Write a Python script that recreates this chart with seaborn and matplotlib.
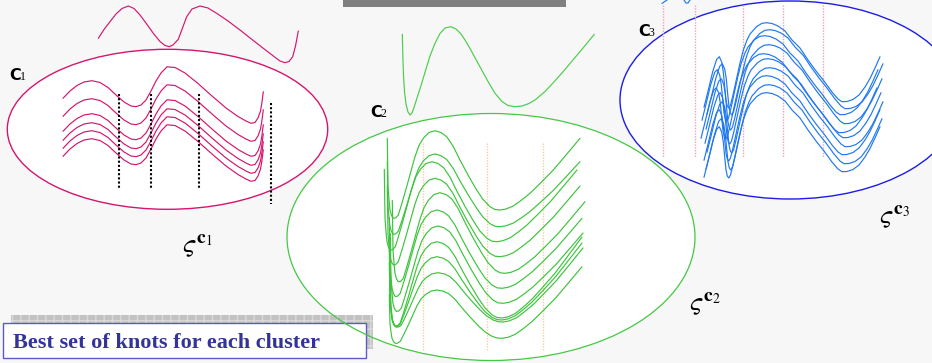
import matplotlib
matplotlib.use("Agg")
import numpy as np
import matplotlib.pyplot as plt
import seaborn as sns
from matplotlib.patches import Ellipse, Rectangle

# ---------------- data (pixel-space coordinates of the diagram) ----------------
# Cluster C1: prototype curve and the base shape of its member curves
c1_proto_x = [98.3, 104, 110, 116, 122, 128.3, 134, 140, 146.7, 153.3, 160, 165, 169.3, 173,
              178.3, 182.5, 186.7, 192, 200, 208, 216.7, 228, 240, 252, 263.3, 274, 280, 285,
              289, 292.7, 295.5, 298.3]
c1_proto_y = [38.3, 29.5, 21.7, 14, 8.5, 6, 8.5, 15, 24, 33.3, 41.5, 45.5, 46.7, 45,
              39.3, 28, 16.7, 9, 6, 8, 13.3, 21, 30, 39.5, 48.3, 56.5, 61, 62.7,
              61.5, 56.7, 46, 31]
c1_base_x = [63, 70, 77, 84, 92, 100, 108, 116, 124, 131, 136, 141, 146, 151, 156, 161, 167,
             175, 185, 198, 212, 226, 238, 246, 251, 255, 258, 260.5, 262, 263.3]
c1_base_y = [148.3, 141, 135.5, 132, 130.7, 132.5, 137.5, 145, 152, 156, 156.7, 155, 150, 141,
             131, 123, 116.8, 117.5, 123, 133.5, 146, 158, 166.5, 171, 173.3, 172.5, 168, 161,
             152, 141.7]
c1_shift_y = [-50, -32, -17, -8, 0, 8]
c1_knots = [119, 150.7, 199, 270.7]

# Cluster C2
c2_proto_x = [402.3, 402.8, 403.5, 404.5, 406, 408, 410, 412, 414, 417, 421.7, 426, 430, 435,
              440, 445, 451, 456, 461, 465, 470, 476, 481.7, 488, 495, 502, 508, 515, 522,
              529, 535, 545, 553, 561.7, 570, 578, 586, 594.3]
c2_proto_y = [34.3, 55, 75, 92, 104, 112, 115, 113, 107.5, 98, 83.3, 69, 56, 43.3,
              33.5, 28, 26.7, 29, 34, 40, 48.5, 59.5, 70, 81.5, 93.3, 101.5, 105.5, 106.7, 106,
              103.5, 100, 91.5, 83, 73.3, 63.5, 54, 44.5, 34.3]
c2_base_x = [387.3, 387.6, 388, 389, 390, 391.5, 393.3, 395.5, 398.3, 402, 406.7, 411, 415, 419,
             423.3, 429, 435, 441, 446.7, 453, 460, 468, 476.7, 483, 490, 495, 500, 506, 513.3,
             521, 530, 541, 553.3, 566, 580]
c2_base_y = [138.3, 160, 186.7, 200, 210, 215.5, 218.3, 218, 215, 203, 186.7, 171, 156.7, 145.5,
             138.3, 132.5, 130.7, 132.5, 136.7, 146, 160, 175, 190, 199.5, 206.7, 209.5, 210, 209,
             206, 200.5, 193.3, 182.5, 170, 155, 138.3]
# per-curve levels: main peak, right trough and right end
c2_peak = [130.7, 154, 161.7, 178.3, 192.7, 210, 226, 241.7, 256.7, 272.7, 290]
c2_trough = [210, 226.7, 241.7, 256.7, 273.3, 288.3, 303.3, 318, 320, 322, 338.3]
c2_end = [138.3, 161.7, 170, 186, 201.7, 218.3, 233, 237, 243, 248, 266.7]
c2_shift_x = [0, 0, -3, 0, 5, 2, 3, 2, 2, 3, 2]
c2_knots = [422.7, 486.7, 542.7]

# Cluster C3
c3_base_x = [704, 708.3, 712.7, 716.7, 719.3, 721.7, 723.3, 724.7, 726, 727.3, 728.8, 730.5, 733,
             736.7, 740, 743.3, 747, 750, 756.7, 762, 766.7, 772, 778, 785, 792, 800, 808, 816,
             824, 832, 838, 842, 847, 853, 859, 865, 870, 875, 880]
c3_base_y = [107.3, 90, 71.7, 59.3, 56.7, 62, 72, 87, 100, 106, 108, 105, 95,
             78, 63, 50, 40, 34, 26.5, 23.3, 22.7, 23.5, 26, 31, 40, 48, 60, 71,
             81, 92, 99, 101.7, 101.5, 99.5, 95, 87, 78.5, 68, 56.7]
c3_shift_y = [0, 7, 13, 22, 31, 36, 45, 53, 62, 70]
c3_shift_x = [0, 3, -2, 2, -3, 1, 3, 0, 2, 0]
c3_knots = [663, 695, 743, 783, 823]
c3_proto_a_x = [662, 664, 667, 669]
c3_proto_a_y = [3.5, 2, 0, -3]
c3_proto_b_x = [683, 684, 686, 688, 690, 691]
c3_proto_b_y = [-3, 0, 3, 3, 0, -3]

caption = "Best set of knots for each cluster"

# ---------------- styling ----------------
sns.set_theme(style="white")
plt.rcParams['font.family'] = ['DejaVu Sans']
plt.rcParams['mathtext.fontset'] = 'stix'

BG = '#f7f7f7'
MAGENTA = '#d3166e'
GREEN = '#3cc43c'
BLUE_EDGE = '#1c1ce8'
BLUE = '#1f78f2'

fig = plt.figure(figsize=(9.32, 3.63), dpi=100)
fig.patch.set_facecolor(BG)
ax = fig.add_axes([0, 0, 1, 1])
ax.set_facecolor(BG)


def curve(xs, ys, color, lw=0.85, z=3):
    sns.lineplot(x=list(xs), y=list(ys), sort=False, estimator=None,
                 color=color, linewidth=lw, ax=ax, zorder=z)


# cluster ellipses (white fill)
ax.add_patch(Ellipse((167.5, 129.3), 320.4, 160, facecolor='white', edgecolor=MAGENTA, lw=1.0, zorder=1))
ax.add_patch(Ellipse((491, 237), 408, 247, facecolor='white', edgecolor='none', zorder=1))
ax.add_patch(Ellipse((491, 237), 408, 247, facecolor='none', edgecolor='#44c844', lw=0.9, zorder=8))
ax.add_patch(Ellipse((790, 100), 340, 198, facecolor='white', edgecolor=BLUE_EDGE, lw=1.0, zorder=1))

# top bar
ax.add_patch(Rectangle((343.3, 0), 222.7, 6.7, facecolor='#808080', edgecolor='none', zorder=2))

# ---- C1 ----
curve(c1_proto_x, c1_proto_y, MAGENTA)
bx1 = np.array(c1_base_x)
by1 = np.array(c1_base_y)
for dy in c1_shift_y:
    curve(bx1, by1 + dy, MAGENTA)
ax.vlines(c1_knots[:3], 94.3, 187.7, colors='black', lw=1.5, linestyles=(0, (1, 1)), zorder=4)
ax.vlines(c1_knots[3:], 102.7, 204, colors='black', lw=1.5, linestyles=(0, (1, 1)), zorder=4)

# ---- C2 ----
curve(c2_proto_x, c2_proto_y, '#4ccc4c')
bx2 = np.array(c2_base_x)
by2 = np.array(c2_base_y)
ref_t, ref_p, ref_e = 210.0, 130.7, 138.3
for p, t, e, dx in zip(c2_peak, c2_trough, c2_end, c2_shift_x):
    left = bx2 <= 500
    scale = np.where(left, (t - p) / (ref_t - ref_p), (t - e) / (ref_t - ref_e))
    curve(bx2 + dx, t + (by2 - ref_t) * scale, GREEN)
ax.vlines(c2_knots, 143.3, 350, colors='#f5cfa0', lw=1.0, linestyles=(0, (1, 1)), zorder=2)

# ---- C3 ----
curve(c3_proto_a_x, c3_proto_a_y, BLUE)
curve(c3_proto_b_x, c3_proto_b_y, BLUE)
bx3 = np.array(c3_base_x)
by3 = np.array(c3_base_y)
for dy, dx in zip(c3_shift_y, c3_shift_x):
    curve(bx3 + dx, by3 + dy, BLUE)
ax.vlines(c3_knots, 5, 157, colors='#e8a4bc', lw=1.0, linestyles=(0, (1, 1)), zorder=2)

# ---- cluster labels ----
for (x, y, d) in [(9.3, 79.5, '1'), (370, 117, '2'), (638, 35.5, '3')]:
    ax.text(x, y, 'C', fontsize=11.5, fontweight='bold', color='black', va='baseline', ha='left', zorder=9)
    ax.text(x + 10.5, y, d, fontsize=8.5, color='black', va='baseline', ha='left',
            family=['Liberation Serif'], zorder=9)

for (x, y, d) in [(182, 232, '1'), (689, 290, '2'), (879, 203, '3')]:
    ax.text(x, y, r'$\varsigma^{\mathbf{c}_{%s}}$' % d, fontsize=20, color='black',
            va='top', ha='left', zorder=9)

# ---- caption box ----
ax.add_patch(Rectangle((11, 315), 362.3, 34.3, facecolor='#c2c2c2', edgecolor='#dadada',
                       hatch='++', lw=0, zorder=5))
ax.add_patch(Rectangle((3.3, 323.3), 362.4, 34.4, facecolor='white', edgecolor='#5a5ac8',
                       lw=1.0, zorder=6))
ax.text(13.3, 348.3, caption, fontsize=16, fontweight='bold', color='#333399',
        family=['Liberation Serif'], va='baseline', ha='left', zorder=7)

ax.set_xlim(0, 932)
ax.set_ylim(363, 0)
ax.axis('off')
fig.savefig('out.png', dpi=100, facecolor=BG)
